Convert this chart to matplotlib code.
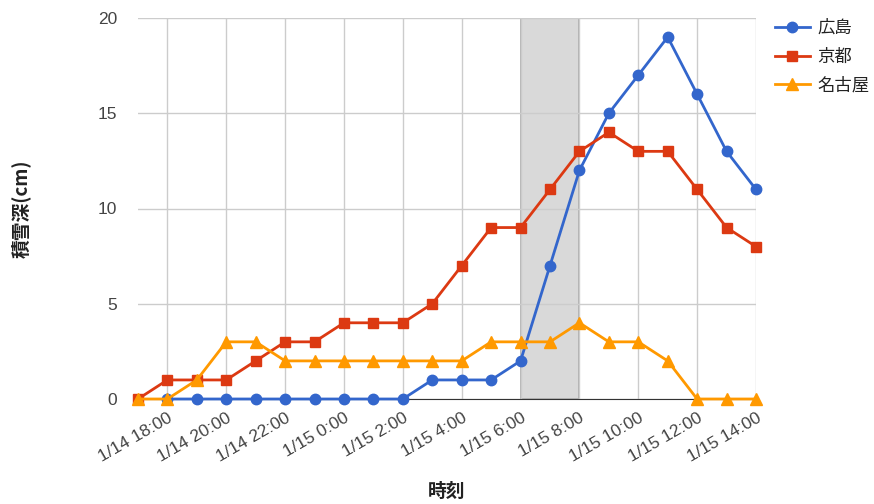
import numpy as np
import matplotlib
matplotlib.use("Agg")
import matplotlib.pyplot as plt

plt.rcParams["font.family"] = ["Liberation Sans", "Noto Sans CJK JP", "DejaVu Sans"]

# hourly observations, 1/14 17:00 .. 1/15 14:00
times = [
    "1/14 17:00", "1/14 18:00", "1/14 19:00", "1/14 20:00", "1/14 21:00",
    "1/14 22:00", "1/14 23:00", "1/15 0:00", "1/15 1:00", "1/15 2:00",
    "1/15 3:00", "1/15 4:00", "1/15 5:00", "1/15 6:00", "1/15 7:00",
    "1/15 8:00", "1/15 9:00", "1/15 10:00", "1/15 11:00", "1/15 12:00",
    "1/15 13:00", "1/15 14:00",
]
hiroshima = [np.nan, 0, 0, 0, 0, 0, 0, 0, 0, 0, 1, 1, 1, 2, 7, 12, 15, 17, 19, 16, 13, 11]
kyoto = [0, 1, 1, 1, 2, 3, 3, 4, 4, 4, 5, 7, 9, 9, 11, 13, 14, 13, 13, 11, 9, 8]
nagoya = [0, 0, 1, 3, 3, 2, 2, 2, 2, 2, 2, 2, 3, 3, 3, 4, 3, 3, 2, 0, 0, 0]
shade_from, shade_to = "1/15 6:00", "1/15 8:00"

x = np.arange(len(times))
tick_idx = x[1::2]
cjk = ["Noto Sans CJK JP", "DejaVu Sans"]

fig = plt.figure(figsize=(8.74, 5.04), dpi=100)
ax = fig.add_axes([138 / 874, 1 - 399 / 504, (756 - 138) / 874, (399 - 18) / 504])

ax.axvspan(times.index(shade_from), times.index(shade_to),
           facecolor="#d9d9d9", edgecolor="#a8a8a8", linewidth=1.2, zorder=0.5)

series = [
    ("広島", hiroshima, "#3366cc", "o", 7.5),
    ("京都", kyoto, "#dc3912", "s", 7),
    ("名古屋", nagoya, "#ff9900", "^", 8),
]
for name, vals, color, marker, ms in series:
    ax.plot(x, vals, color=color, marker=marker, markersize=ms, linewidth=2,
            label=name, clip_on=False, zorder=3)

ax.set_xlim(0, len(times) - 1)
ax.set_ylim(0, 20)
ax.set_yticks([0, 5, 10, 15, 20])
ax.set_xticks(tick_idx)
ax.set_xticklabels([times[i] for i in tick_idx], rotation=30, ha="right",
                   rotation_mode="anchor")
ax.grid(True, color="#cccccc", linewidth=1, zorder=1)
ax.set_axisbelow(True)
for side in ("left", "top", "right"):
    ax.spines[side].set_visible(False)
ax.spines["bottom"].set_color("#333333")
ax.tick_params(length=0, labelsize=12.5, colors="#444444")
ax.tick_params(axis="y", pad=15)
ax.tick_params(axis="x", pad=8)

ax.set_ylabel("積雪深(cm)", fontsize=13.5, fontweight="bold", color="#222222",
              family=cjk, labelpad=48)
ax.set_xlabel("時刻", fontsize=13.5, fontweight="bold", color="#222222",
              family=cjk, labelpad=13)

leg = ax.legend(loc="upper left", bbox_to_anchor=(775 / 874, 1 - 19 / 504),
                bbox_transform=fig.transFigure, frameon=False,
                borderaxespad=0, borderpad=0,
                prop={"family": cjk, "size": 12.5},
                handlelength=2.0, labelspacing=0.62, handletextpad=0.45)
for t in leg.get_texts():
    t.set_color("#222222")

fig.savefig("out.png", dpi=100)
